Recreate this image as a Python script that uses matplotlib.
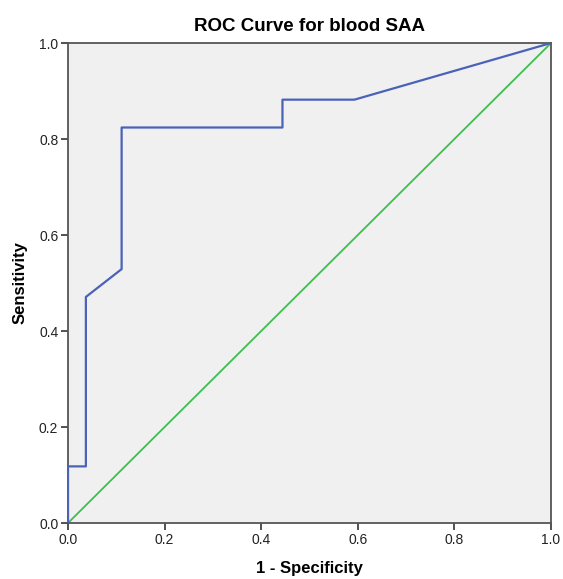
import matplotlib.pyplot as plt

# ROC curve points (1 - specificity, sensitivity)
fpr = [0.0, 0.0, 0.037, 0.037, 0.111, 0.111, 0.444, 0.444, 0.593, 1.0]
tpr = [0.0, 0.118, 0.118, 0.471, 0.529, 0.824, 0.824, 0.882, 0.882, 1.0]
ref_line = [0.0, 1.0]
ticks = [0.0, 0.2, 0.4, 0.6, 0.8, 1.0]
tick_labels = ["0.0", "0.2", "0.4", "0.6", "0.8", "1.0"]

plt.rcParams['font.family'] = ['Liberation Sans', 'DejaVu Sans']

fig = plt.figure(figsize=(5.63, 5.79), dpi=100)
ax = fig.add_axes([0.1208, 0.0967, 0.8579, 0.829])
ax.set_facecolor('#f0f0f0')

ax.plot(ref_line, ref_line, color='#3cbf4f', linewidth=1.3, zorder=2)
ax.plot(fpr, tpr, color='#4a62b8', linewidth=1.6, zorder=3)

ax.set_xlim(0, 1)
ax.set_ylim(0, 1)
ax.set_xticks(ticks)
ax.set_xticklabels(tick_labels)
ax.set_yticks(ticks)
ax.set_yticklabels(tick_labels)
ax.tick_params(direction='out', length=5, width=1.2, color='#333333',
               labelsize=10, labelcolor='#222222', pad=2)
for s in ax.spines.values():
    s.set_color('#555555')
    s.set_linewidth(1.3)

ax.set_title("ROC Curve for blood SAA", fontsize=13.5, fontweight='bold', pad=9)
ax.set_xlabel("1 - Specificity", fontsize=12, fontweight='bold', labelpad=10)
ax.set_ylabel("Sensitivity", fontsize=12, fontweight='bold', labelpad=8)

fig.savefig("out.png", dpi=100)
